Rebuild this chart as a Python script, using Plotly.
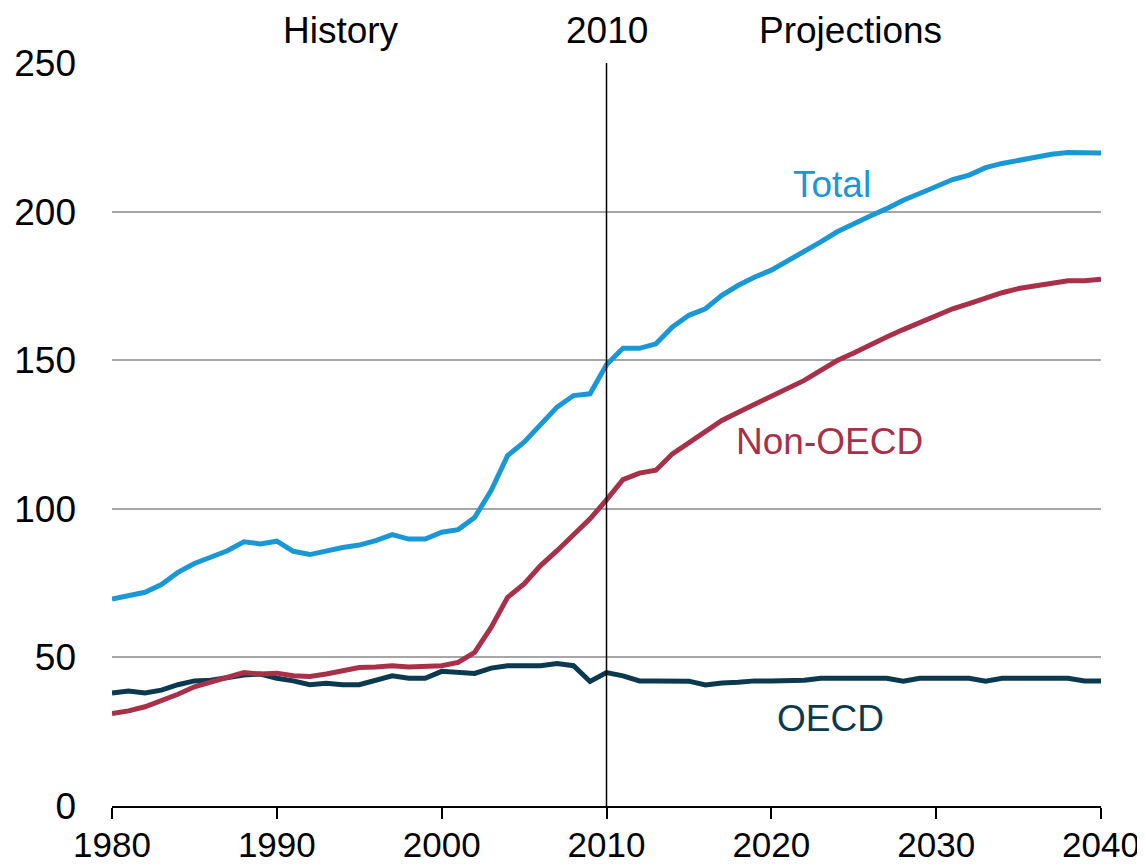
import plotly.graph_objects as go

years = list(range(1980, 2041))

total = [69.6, 70.8, 71.9, 74.5, 78.6, 81.6, 83.7, 85.9, 88.9, 88.2,
         89.1, 85.7, 84.6, 85.9, 87.0, 87.8, 89.3, 91.3, 89.8, 89.8,
         92.1, 93.0, 97.1, 106.1, 117.9, 122.4, 128.6, 134.2, 138.1, 138.7,
         148.5, 154.0, 154.0, 155.5, 161.2, 165.1, 167.3, 171.8, 175.2, 178.0,
         180.3, 183.4, 186.4, 189.8, 193.2, 196.0, 198.5, 201.0, 203.8, 206.1,
         208.6, 210.8, 212.3, 214.8, 216.2, 217.3, 218.4, 219.3, 219.9, 219.8,
         219.7]

non_oecd = [31.1, 32.0, 33.4, 35.4, 37.6, 40.1, 41.8, 43.2, 44.9, 44.4,
            44.7, 43.8, 43.6, 44.4, 45.7, 46.6, 46.8, 47.2, 46.8, 46.8,
            47.2, 48.3, 51.7, 60.1, 70.2, 74.7, 80.9, 85.9, 91.0, 96.6,
            103.0, 109.8, 112.0, 113.0, 118.5, 122.4, 125.8, 129.7, 132.5, 135.1,
            137.6, 140.4, 143.2, 146.6, 149.9, 152.4, 155.3, 157.8, 160.3, 162.7,
            165.1, 167.3, 169.0, 170.9, 172.7, 174.1, 174.9, 175.8, 176.7, 176.7,
            177.2]

oecd = [38.0, 38.7, 38.0, 39.0, 40.8, 42.1, 42.3, 43.2, 44.1, 44.4,
        43.0, 42.1, 40.8, 41.3, 40.8, 40.8, 42.1, 43.8, 43.0, 43.0,
        45.3, 44.8, 44.6, 46.4, 47.2, 47.2, 47.2, 47.9, 47.2, 41.9,
        44.9, 43.8, 42.1, 42.1, 42.1, 42.0, 40.7, 41.4, 41.6, 42.1,
        42.1, 42.1, 42.3, 43.0, 43.0, 43.0, 43.0, 43.0, 42.0, 43.0,
        43.0, 43.0, 43.0, 42.0, 43.0, 43.0, 43.0, 43.0, 43.0, 42.1,
        42.1]

x_ticks = [1980, 1990, 2000, 2010, 2020, 2030, 2040]
y_ticks = [0, 50, 100, 150, 200, 250]

BLUE = "#1a98d5"
RED = "#a83048"
NAVY = "#0b3a50"
FONT = "Liberation Sans, Arial, sans-serif"
FS = 37

fig = go.Figure()
fig.add_trace(go.Scatter(x=years, y=oecd, mode="lines", line=dict(color=NAVY, width=5), name="OECD"))
fig.add_trace(go.Scatter(x=years, y=non_oecd, mode="lines", line=dict(color=RED, width=5), name="Non-OECD"))
fig.add_trace(go.Scatter(x=years, y=total, mode="lines", line=dict(color=BLUE, width=5), name="Total"))

# divider line at 2010
fig.add_shape(type="line", x0=2010, x1=2010, y0=0, y1=250, xref="x", yref="y",
              line=dict(color="black", width=1.5), layer="above")

# series labels
fig.add_annotation(x=2023.7, y=209, text="Total", showarrow=False,
                   font=dict(color=BLUE, size=FS, family=FONT))
fig.add_annotation(x=2023.5, y=122.6, text="Non-OECD", showarrow=False,
                   font=dict(color=RED, size=FS, family=FONT))
fig.add_annotation(x=2023.6, y=29.6, text="OECD", showarrow=False,
                   font=dict(color=NAVY, size=FS, family=FONT))

# header labels
for txt, xv in [("History", 1993.9), ("2010", 2010), ("Projections", 2024.8)]:
    fig.add_annotation(x=xv, y=1.0, xref="x", yref="paper", yanchor="middle", yshift=33,
                       text=txt, showarrow=False,
                       font=dict(color="black", size=FS, family=FONT))

fig.update_layout(
    width=1137, height=856,
    margin=dict(l=104, r=44, t=55, b=58, autoexpand=False),
    plot_bgcolor="white", paper_bgcolor="white",
    showlegend=False,
    font=dict(family=FONT, size=FS, color="black"),
)
fig.update_xaxes(
    range=[1980, 2040], tickvals=x_ticks, ticktext=[str(v) for v in x_ticks],
    showgrid=False, zeroline=False, automargin=False,
    showline=True, linecolor="black", linewidth=2,
    ticks="outside", ticklen=11, tickwidth=1.5, tickcolor="black",
    tickfont=dict(size=35, family=FONT, color="black"),
    ticklabelstandoff=-4,
)
fig.update_yaxes(
    range=[0, 250], tickvals=y_ticks, ticktext=[str(v) for v in y_ticks],
    showgrid=True, gridcolor="#a6a6a6", gridwidth=1.5, automargin=False,
    zeroline=False, showline=False, ticks="",
    tickfont=dict(size=FS, family=FONT, color="black"),
    ticklabelstandoff=35,
)

fig.write_html("out.html")
